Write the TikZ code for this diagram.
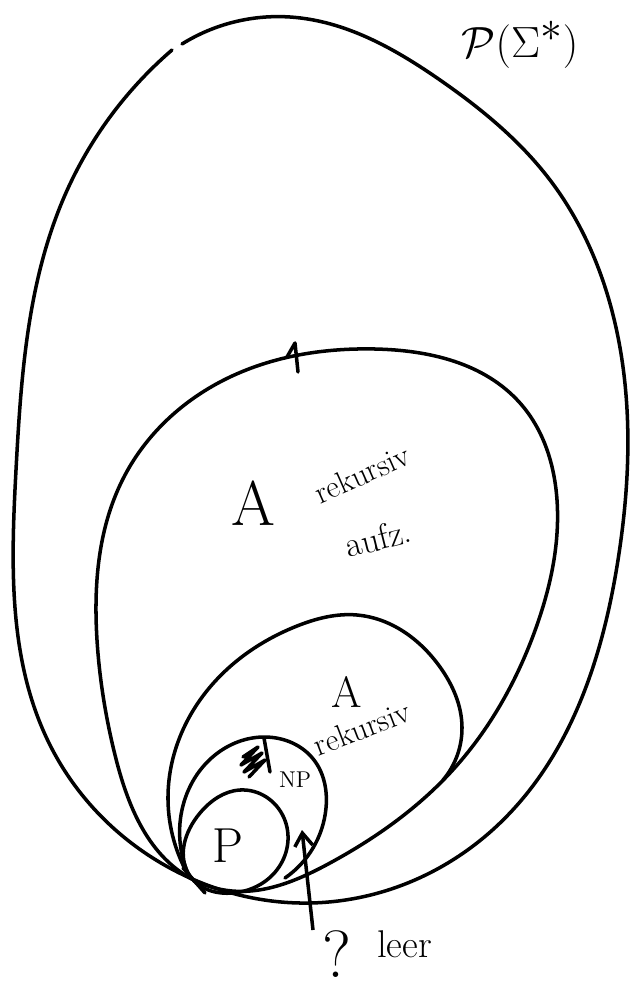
\documentclass[tikz,border=0pt]{standalone}
\usepackage{amsmath}
\usepackage{amssymb}
\usepackage{tikz}
\usetikzlibrary{arrows.meta, positioning, hobby}
\tikzset{
    setline/.style={line width=2pt, line join=round, line cap=round, use Hobby shortcut},
    hand/.style={inner sep=0pt, font=\fontsize{18}{20}\selectfont},
    bighand/.style={inner sep=0pt, font=\fontsize{34}{38}\selectfont},
    arrow/.style={-{Straight Barb[length=2.6mm, width=3.6mm, line width=2pt]}, line width=2pt},
}

\begin{document}
\begin{tikzpicture}[x=0.02cm, y=-0.02cm]
    \useasboundingbox (0,0) rectangle (632,993);

    % Outer set P(Sigma*), left open at the top
    \draw[setline] (172,50) .. (65,195) .. (16,470) .. (50,745) .. (190,878) .. (310,903) .. (500,823) .. (618,560) .. (622,360) .. (550,180) .. (440,80) .. (290,17) .. (182,44);
    \draw[setline] (183,868) -- (205,893);

    % A rekursiv aufz.
    \draw[setline, closed=true] (190,878) .. (115,755) .. (97,640) .. (125,475) .. (220,382) .. (375,349) .. (520,403) .. (557,500) .. (537,625) .. (450,773) .. (330,863) .. (232,891);
    \draw[setline] (287,357) -- (295,343) -- (298,372);

    % A rekursiv
    \draw[setline] (190,878) .. (168,800) .. (200,700) .. (297,626) .. (357,615) .. (440,667) .. (462,727) .. (443,780);

    % NP
    \draw[setline] (190,878) .. (181,815) .. (215,755) .. (265,737) .. (314,760) .. (326,808) .. (285,878);
    \draw[setline] (243,757) -- (258,747) -- (241,765) -- (262,753) -- (244,772) -- (265,760) -- (249,777);
    \draw[setline] (264,738) -- (270,772);

    % P
    \draw[setline, closed=true] (190,876) .. (200,813) .. (240,790) .. (284,818) .. (279,867) .. (233,893);

    % Labels
    \node[bighand] (power) at (520,45) {$\mathcal{P}(\Sigma^{*})$};
    \node[bighand, font=\fontsize{36}{40}\selectfont] (aone) at (253,503) {A};
    \node[hand, rotate=24] (rekone) at (362,474) {rekursiv};
    \node[hand, font=\fontsize{20}{22}\selectfont, rotate=14] (aufz) at (378,538) {aufz.};
    \node[hand, font=\fontsize{25}{28}\selectfont] (atwo) at (347,692) {A};
    \node[hand, rotate=21] (rektwo) at (362,728) {rekursiv};
    \node[hand, font=\fontsize{13}{15}\selectfont] (np) at (295,780) {NP};
    \node[hand, font=\fontsize{28}{30}\selectfont] (p) at (228,846) {P};
    \node[hand, font=\fontsize{38}{42}\selectfont] (q) at (337,954) {?};
    \node[hand, font=\fontsize{22}{24}\selectfont, right=0.5cm of q.north east, anchor=north west] (leer) {leer};

    % Arrow
    \coordinate (tail) at (313,930);
    \coordinate (gap) at (302,830);
    \draw[arrow] (tail) -- (gap);
\end{tikzpicture}
\end{document}
